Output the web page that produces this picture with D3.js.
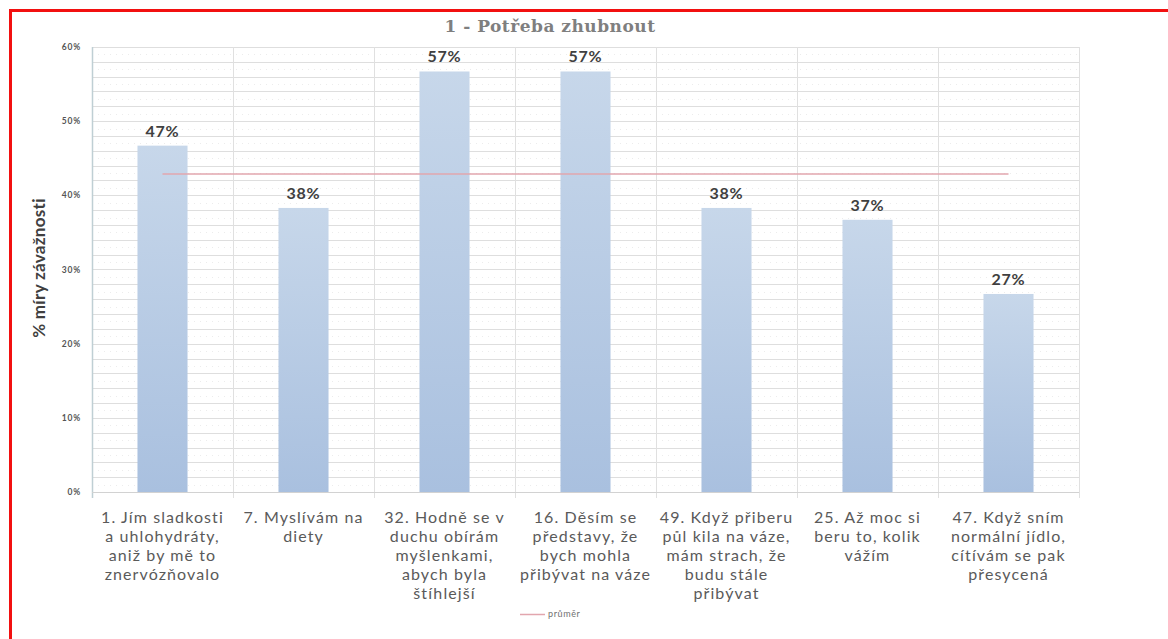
<!DOCTYPE html>
<html>
<head>
<meta charset="utf-8">
<script src="https://cdn.jsdelivr.net/npm/d3@7"></script>
<style>
  html, body { margin: 0; padding: 0; background: #ffffff; }
  svg { display: block; }
</style>
</head>
<body>
<svg id="chart" width="1168" height="639"></svg>
<script>
// Category labels (wrapped lines), bar values (share of severity) and y ticks
const categories = [
  ["1. Jím sladkosti", "a uhlohydráty,", "aniž by mě to", "znervózňovalo"],
  ["7. Myslívám na", "diety"],
  ["32. Hodně se v", "duchu obírám", "myšlenkami,", "abych byla", "štíhlejší"],
  ["16. Děsím se", "představy, že", "bych mohla", "přibývat na váze"],
  ["49. Když přiberu", "půl kila na váze,", "mám strach, že", "budu stále", "přibývat"],
  ["25. Až moc si", "beru to, kolik", "vážím"],
  ["47. Když sním", "normální jídlo,", "cítívám se pak", "přesycená"]
];
const values = [0.467, 0.383, 0.567, 0.567, 0.383, 0.367, 0.267];
const yTicks = [0, 0.1, 0.2, 0.3, 0.4, 0.5, 0.6];
const title = "1 - Potřeba zhubnout";
const yTitle = "% míry závažnosti";
const legendLabel = "průměr";

const svg = d3.select("#chart");
const plotLeft = 92, plotRight = 1079, plotTop = 47, plotBottom = 492;

const x = d3.scaleBand()
  .domain(d3.range(categories.length))
  .range([plotLeft, plotRight])
  .paddingInner(0.645)
  .paddingOuter(0.3225);
const band = d3.scaleBand().domain(d3.range(categories.length)).range([plotLeft, plotRight]);
const y = d3.scaleLinear().domain([0, 0.6]).range([plotBottom, plotTop]);

// outer frame
svg.append("rect")
  .attr("x", 10.5).attr("y", 10.5)
  .attr("width", 1200).attr("height", 700)
  .attr("fill", "none").attr("stroke", "#f21010").attr("stroke-width", 3);

// bar gradient
const defs = svg.append("defs");
const grad = defs.append("linearGradient").attr("id", "barGrad")
  .attr("x1", 0).attr("y1", 0).attr("x2", 0).attr("y2", 1);
grad.append("stop").attr("offset", "0%").attr("stop-color", "#c7d7ea");
grad.append("stop").attr("offset", "100%").attr("stop-color", "#a9c0df");

// faint dotted minor grid
const minor = d3.range(0.01, 0.6, 0.02);
svg.append("g").selectAll("line").data(minor).join("line")
  .attr("x1", plotLeft).attr("x2", plotRight)
  .attr("y1", d => Math.round(y(d)) + 0.5).attr("y2", d => Math.round(y(d)) + 0.5)
  .attr("stroke", "#ececec").attr("stroke-width", 1).attr("stroke-dasharray", "1,5");

// horizontal gridlines every 2 %
const major = d3.range(0.02, 0.61, 0.02);
svg.append("g").selectAll("line").data(major).join("line")
  .attr("x1", plotLeft).attr("x2", plotRight)
  .attr("y1", d => Math.round(y(d)) + 0.5).attr("y2", d => Math.round(y(d)) + 0.5)
  .attr("stroke", "#dedede").attr("stroke-width", 1);

// vertical category separators with tick marks below the axis
const bounds = d3.range(categories.length + 1).map(i => i < categories.length ? band(i) : plotRight);
svg.append("g").selectAll("line").data(bounds.slice(1)).join("line")
  .attr("x1", d => Math.round(d) + 0.5).attr("x2", d => Math.round(d) + 0.5)
  .attr("y1", plotTop).attr("y2", plotBottom + 6)
  .attr("stroke", "#e0e0e0").attr("stroke-width", 1);

// axis lines
svg.append("line")
  .attr("x1", plotLeft + 0.5).attr("x2", plotLeft + 0.5).attr("y1", plotTop).attr("y2", plotBottom + 6)
  .attr("stroke", "#bfcfd4").attr("stroke-width", 1.5);
svg.append("line")
  .attr("x1", plotLeft).attr("x2", plotRight).attr("y1", plotBottom + 0.5).attr("y2", plotBottom + 0.5)
  .attr("stroke", "#d2d2d2").attr("stroke-width", 1);

// y tick labels
svg.append("g").selectAll("text").data(yTicks).join("text")
  .attr("x", 81).attr("y", d => y(d) + 3)
  .attr("text-anchor", "end")
  .attr("font-family", "Lato, 'DejaVu Sans', sans-serif")
  .attr("font-size", 8.5).attr("font-weight", "bold")
  .attr("letter-spacing", 0.8)
  .attr("fill", "#555555")
  .text(d => d3.format(".0%")(d));

// y axis title
svg.append("text")
  .attr("transform", "translate(45,268) rotate(-90)")
  .attr("text-anchor", "middle")
  .attr("font-family", "Lato, 'Liberation Sans', sans-serif")
  .attr("font-size", 17).attr("font-weight", "bold")
  .attr("letter-spacing", 0.3)
  .attr("fill", "#404040")
  .text(yTitle);

// bars
svg.append("g").selectAll("rect").data(values).join("rect")
  .attr("x", (d, i) => x(i))
  .attr("width", x.bandwidth())
  .attr("y", d => y(d))
  .attr("height", d => plotBottom - y(d))
  .attr("fill", "url(#barGrad)");

// value labels
svg.append("g").selectAll("text").data(values).join("text")
  .attr("x", (d, i) => x(i) + x.bandwidth() / 2)
  .attr("y", d => y(d) - 9)
  .attr("text-anchor", "middle")
  .attr("font-family", "Lato, 'Liberation Sans', sans-serif")
  .attr("font-size", 16).attr("font-weight", "bold")
  .attr("letter-spacing", 0.8)
  .attr("fill", "#404040")
  .text(d => d3.format(".0%")(d));

// average line across category centres
const avg = d3.mean(values);
svg.append("line")
  .attr("x1", x(0) + x.bandwidth() / 2)
  .attr("x2", x(categories.length - 1) + x.bandwidth() / 2)
  .attr("y1", y(avg)).attr("y2", y(avg))
  .attr("stroke", "#e2a6ae").attr("stroke-width", 1.5);

// category labels
const catText = svg.append("g").selectAll("text").data(categories).join("text")
  .attr("text-anchor", "middle")
  .attr("font-family", "Lato, 'Liberation Sans', sans-serif")
  .attr("font-size", 16)
  .attr("letter-spacing", 1.1)
  .attr("fill", "#5a5a5a");
catText.each(function(lines, i) {
  const cx = band(i) + band.bandwidth() / 2;
  d3.select(this).selectAll("tspan").data(lines).join("tspan")
    .attr("x", cx)
    .attr("y", (d, j) => 523 + j * 19)
    .text(d => d);
});

// title
svg.append("text")
  .attr("x", 550).attr("y", 32)
  .attr("text-anchor", "middle")
  .attr("font-family", "'DejaVu Serif', 'Liberation Serif', serif")
  .attr("font-size", 17).attr("font-weight", "bold")
  .attr("letter-spacing", 0.5)
  .attr("fill", "#7f7f7f")
  .text(title);

// legend
svg.append("line")
  .attr("x1", 520).attr("x2", 545).attr("y1", 614.5).attr("y2", 614.5)
  .attr("stroke", "#e2a6ae").attr("stroke-width", 1.5);
svg.append("text")
  .attr("x", 548).attr("y", 617)
  .attr("font-family", "Lato, 'Liberation Sans', sans-serif")
  .attr("font-size", 9)
  .attr("letter-spacing", 0.6)
  .attr("fill", "#707070")
  .text(legendLabel);
</script>
</body>
</html>
